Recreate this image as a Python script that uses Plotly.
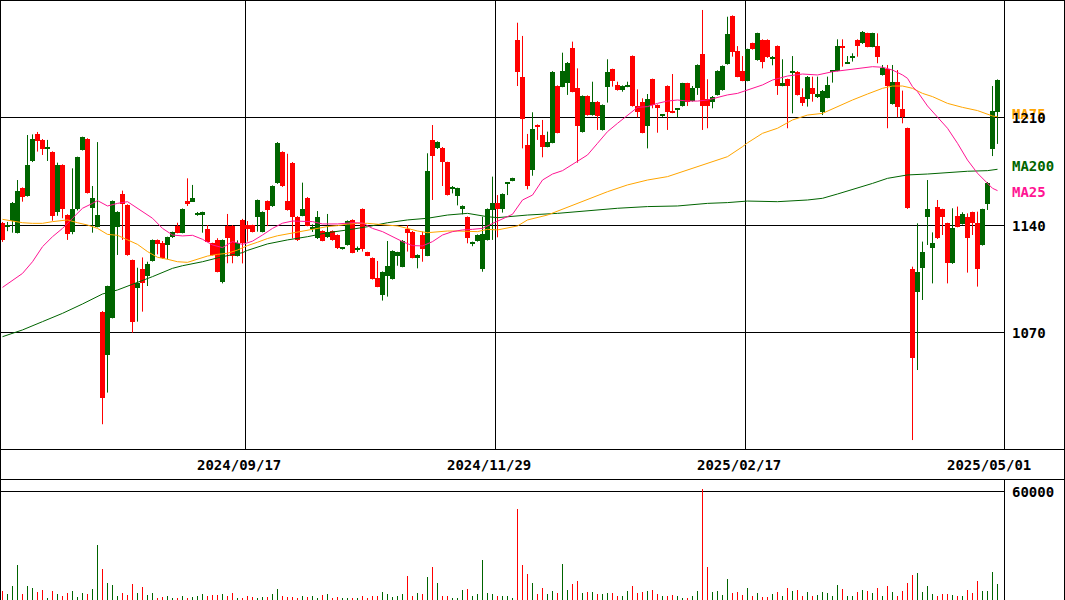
import plotly.graph_objects as go

# ---------------------------------------------------------------- data
# Daily candles, oldest first: 200 sessions ending 2025/05/01
opens = [
    1141.5, 1139, 1142.6, 1135, 1164.1, 1158.9, 1181.7, 1199.3, 1195.4, 1189.5,
    1187.5, 1148.7, 1179, 1146.5, 1135.7, 1150.2, 1189, 1196, 1150.9, 1139,
    1083.4, 1055.4, 1079.7, 1139, 1160.2, 1153, 1117.2, 1099.2, 1111.4, 1106.8,
    1116.6, 1130.3, 1128.5, 1127, 1132, 1139.6, 1135, 1155.6, 1155.2, 1146.8,
    1146.8, 1137.4, 1128.1, 1130.3, 1103.1, 1139.6, 1139.6, 1119.8, 1143.3, 1140,
    1139.8, 1145, 1135.7, 1155.6, 1152.2, 1167.3, 1187.7, 1155.6, 1180.6, 1145.4,
    1146.1, 1157.8, 1138, 1131.3, 1136.1, 1132, 1136.1, 1133.5, 1124.4, 1127,
    1143.3, 1124.2, 1150.4, 1122.2, 1118.5, 1105.5, 1094.4, 1107, 1104.9, 1120.1,
    1112.9, 1137.2, 1135.7, 1118.7, 1133.5, 1120.1, 1195.4, 1189.9, 1190.4, 1180.8,
    1163.5, 1158.9, 1150.7, 1145.2, 1128.1, 1129.6, 1111.4, 1130.3, 1149.8, 1154.4,
    1150.6, 1167, 1168.9, 1260.5, 1236.4, 1192.1, 1175.8, 1205.1, 1198.6, 1191,
    1193.6, 1230.5, 1230.1, 1232.2, 1255.5, 1229.4, 1200.6, 1224, 1211.6, 1220.3,
    1201.9, 1230.1, 1241.4, 1231.2, 1227.9, 1230.1, 1250, 1217.5, 1220.3, 1204.5,
    1234.9, 1218.1, 1211.2, 1230.5, 1213.9, 1215, 1217.5, 1232.2, 1220.8, 1229,
    1251.3, 1221.8, 1220.3, 1224.7, 1227.9, 1244.8, 1276.1, 1253.3, 1240.3, 1234,
    1258.3, 1247.4, 1260.5, 1260.5, 1248, 1256.5, 1230.7, 1234.9, 1239.2, 1239.8,
    1223.1, 1221.8, 1229, 1223.1, 1213.8, 1222.9, 1239.8, 1240.5, 1256.5, 1245.3,
    1249.2, 1260.5, 1258.3, 1264.8, 1256.1, 1256.5, 1237.7, 1241.4, 1218.8, 1233.3,
    1215.3, 1203, 1111.2, 1096.6, 1111.8, 1145, 1124.8, 1152, 1150.2, 1141.1,
    1115.1, 1146.1, 1140.7, 1145.4, 1148.3, 1141.1, 1127, 1153.7, 1189.3, 1213.8,
]
highs = [
    1142, 1142, 1155, 1169.3, 1164.5, 1198.6, 1199, 1200.6, 1196, 1195.4,
    1188, 1180.6, 1179.5, 1147, 1176.9, 1184.5, 1197.5, 1196.5, 1165.4, 1194,
    1084, 1100.5, 1156, 1149, 1162.4, 1153.5, 1117.5, 1112.2, 1118.9, 1116.1,
    1130.6, 1130.6, 1129.6, 1132.4, 1135.7, 1141.5, 1150.8, 1170.4, 1166.1, 1148.5,
    1148.7, 1140, 1128.5, 1131.4, 1130.6, 1147.2, 1140, 1130, 1144, 1142.6,
    1140.2, 1156.6, 1148.9, 1156, 1165.8, 1194, 1188, 1186.4, 1181, 1145.8,
    1167.6, 1158.2, 1140.5, 1149.1, 1136.5, 1147.2, 1136.5, 1133.9, 1125.5, 1143,
    1143.7, 1126, 1150.8, 1122.6, 1118.9, 1116.6, 1109.8, 1129.6, 1123.5, 1122.6,
    1130.2, 1140, 1136.1, 1120.9, 1135.7, 1186.7, 1205.1, 1194.5, 1190.8, 1181.2,
    1165.4, 1164.3, 1152.8, 1145.6, 1129.2, 1133.9, 1145.4, 1150.8, 1171.5, 1159.5,
    1160.6, 1168, 1170.8, 1271.7, 1263.1, 1199.3, 1213.4, 1205.5, 1208.4, 1200.8,
    1240.2, 1230.9, 1252.2, 1246.1, 1259.4, 1242, 1224.4, 1224.4, 1233.3, 1220.7,
    1218.5, 1247.9, 1241.8, 1233.3, 1230.9, 1233.3, 1250.4, 1228.3, 1222.5, 1225.3,
    1235.3, 1218.5, 1212.2, 1230.9, 1238.3, 1216, 1232.6, 1232.6, 1230.5, 1244.6,
    1280, 1234.9, 1224, 1240.7, 1243.9, 1275.6, 1276.5, 1256.5, 1250, 1254.8,
    1258.7, 1265.2, 1260.9, 1260.9, 1250, 1256.9, 1247.9, 1235.3, 1250, 1240.2,
    1229, 1237, 1236.6, 1236.6, 1227.9, 1236.6, 1240.9, 1260.9, 1260.9, 1250,
    1251.8, 1260.9, 1266.3, 1265.2, 1265.2, 1264.8, 1244.2, 1244.2, 1244.2, 1240.9,
    1227.5, 1203.4, 1112.9, 1141.1, 1129.2, 1169.3, 1135.2, 1156.3, 1150.6, 1141.5,
    1150.9, 1152, 1148.3, 1147.6, 1148.7, 1148.7, 1150.6, 1168, 1230.5, 1234.8,
]
lows = [
    1129, 1136, 1135, 1134.5, 1155.2, 1158.5, 1181, 1187.8, 1185.6, 1181.7,
    1142.8, 1146, 1144.4, 1130.3, 1134, 1149.5, 1188.5, 1160.5, 1135, 1138.5,
    1010.3, 1030.9, 1079.2, 1120.5, 1130.3, 1120, 1069.9, 1077.1, 1083.6, 1100.3,
    1116.2, 1120.9, 1118, 1117.7, 1131.6, 1134.6, 1134.6, 1152.4, 1155, 1146,
    1135, 1129, 1120.1, 1109.2, 1102, 1115.1, 1115.1, 1119.5, 1115, 1129.2,
    1135.2, 1135.7, 1135.2, 1139.3, 1151.8, 1166.8, 1164.8, 1149.4, 1131.3, 1129.6,
    1145.7, 1139.2, 1135.5, 1130.9, 1129.4, 1131.6, 1129.8, 1124.4, 1124, 1126.6,
    1121.6, 1122.5, 1122.7, 1119.7, 1104.5, 1099.5, 1090.8, 1093.4, 1104.5, 1113.5,
    1112.5, 1122.7, 1118.3, 1111.8, 1116.1, 1119.7, 1156.3, 1189.5, 1165.4, 1159.2,
    1160.6, 1152.8, 1147, 1128.1, 1126.2, 1129.2, 1109.6, 1129.9, 1130.3, 1132,
    1148.1, 1159.5, 1168.5, 1230.5, 1189.9, 1163.2, 1172.1, 1195.4, 1184.1, 1190.6,
    1193.2, 1199.7, 1229.7, 1224.7, 1226.4, 1180.6, 1200.2, 1211.2, 1211.2, 1201.9,
    1201.5, 1219.7, 1230.1, 1227.5, 1226.8, 1229.7, 1217.1, 1210.1, 1199.7, 1189.9,
    1216, 1200.1, 1210.4, 1201.9, 1212.8, 1210.1, 1217.1, 1217.5, 1220.4, 1224.7,
    1201.9, 1203, 1216, 1224.3, 1227.5, 1244.4, 1249.6, 1236.2, 1233.6, 1233.6,
    1254.2, 1247, 1242, 1248.8, 1244, 1224.7, 1230.3, 1203, 1212.7, 1224.3,
    1217.5, 1217.1, 1220.3, 1222.7, 1211.6, 1222.5, 1232.7, 1240.1, 1243.1, 1244.9,
    1246.4, 1249.6, 1257.9, 1255.7, 1255.7, 1245.3, 1237.3, 1203, 1218.4, 1210.1,
    1206.2, 1150.5, 1000, 1045.6, 1091.2, 1127, 1102, 1130.9, 1133.5, 1102,
    1114.7, 1138.5, 1140.3, 1109, 1133.5, 1099.9, 1126.6, 1149.8, 1184.9, 1192.8,
]
closes = [
    1130, 1140, 1154.6, 1162.4, 1158, 1179.1, 1196, 1195, 1189.5, 1190.2,
    1146, 1179.1, 1150.2, 1134, 1150.4, 1184.1, 1197.3, 1161, 1157.4, 1146.5,
    1027.6, 1100.3, 1155.6, 1148.5, 1154, 1120.5, 1077.1, 1102.1, 1102.1, 1114.6,
    1130.3, 1127.7, 1118.3, 1132, 1135.3, 1135, 1150.4, 1153.9, 1157.6, 1147.5,
    1148.3, 1129.2, 1120.5, 1109.6, 1130.3, 1131.3, 1120.1, 1128.5, 1128.1, 1137.5,
    1135.7, 1156.3, 1148.5, 1149.8, 1165.4, 1193.6, 1165.4, 1149.8, 1145, 1130,
    1150.4, 1139.6, 1139, 1145.4, 1129.8, 1135.7, 1130.2, 1124.8, 1125.1, 1142.6,
    1122, 1124.8, 1124.6, 1120.1, 1104.9, 1099.9, 1109.4, 1113.3, 1123.1, 1122.2,
    1129.8, 1135, 1118.7, 1120.5, 1124.2, 1175.2, 1185.2, 1194.1, 1180.8, 1159.6,
    1164.2, 1163.9, 1152.4, 1131.8, 1128.8, 1133.5, 1133.9, 1150.4, 1154.1, 1150.2,
    1160.2, 1167.6, 1170.4, 1239.8, 1208.8, 1165.6, 1202.5, 1203.6, 1191, 1194.3,
    1239.8, 1200.1, 1240.3, 1245.7, 1226.8, 1204.5, 1224, 1211.6, 1220.3, 1211,
    1218.1, 1239.8, 1234, 1227.9, 1230.5, 1230.8, 1217.5, 1213.8, 1200.1, 1221.8,
    1218.1, 1216, 1211.8, 1213.8, 1213.2, 1215.6, 1232.2, 1220.3, 1229, 1244.2,
    1217.5, 1217.5, 1223.6, 1240.3, 1243.5, 1264.4, 1252.9, 1236.6, 1234, 1254.4,
    1254.6, 1264.8, 1245.9, 1249.2, 1249.6, 1230.5, 1232.2, 1230.5, 1239.8, 1224.7,
    1219.7, 1236.6, 1225.3, 1225.3, 1227.5, 1231.2, 1240.5, 1256.5, 1255, 1245.9,
    1249.8, 1256.5, 1265.9, 1256.1, 1264.8, 1249.6, 1242, 1230.5, 1233.3, 1217.1,
    1210.1, 1150.9, 1053.6, 1109.6, 1122.7, 1150.2, 1128.1, 1131.3, 1145, 1115.1,
    1137.8, 1138.9, 1147, 1131.3, 1141.1, 1111.2, 1150.2, 1167.6, 1214.2, 1234.4,
]
volumes = [
    5000, 3300, 7700, 19300, 3300, 7700, 6600, 4400, 5500, 1100,
    5000, 3300, 2200, 3900, 5000, 1700, 3900, 3300, 6100, 30300,
    17100, 9400, 8300, 2200, 3900, 2800, 8800, 3900, 7200, 2800,
    3900, 1100, 1700, 2200, 1100, 600, 2200, 1100, 1700, 2200,
    3300, 2200, 2800, 2800, 3300, 2200, 3900, 1100, 1100, 2200,
    1700, 1100, 1700, 1700, 3300, 6100, 2200, 1700, 1700, 1100,
    2200, 1700, 2200, 1100, 2800, 3300, 1100, 1700, 600, 600,
    1100, 1100, 2200, 1100, 2200, 2200, 4400, 3300, 1700, 2200,
    3300, 13200, 2200, 3900, 3300, 12700, 18200, 9400, 2200, 2200,
    1100, 1100, 5500, 6100, 2200, 3300, 22000, 3900, 3300, 2200,
    2200, 2200, 1100, 50100, 19300, 14300, 9400, 3300, 6600, 3300,
    5000, 3900, 19800, 5500, 8800, 10500, 3900, 4400, 4400, 3300,
    3300, 3900, 3900, 2200, 2200, 5000, 7700, 3900, 4400, 5000,
    5500, 3300, 2200, 2200, 2800, 2200, 1100, 600, 2200, 5000,
    61100, 18200, 4400, 5000, 2800, 11600, 3900, 4400, 2800, 6600,
    2200, 3900, 1700, 1700, 3300, 4400, 2200, 6600, 5000, 5500,
    2200, 4400, 2200, 2800, 4400, 3900, 2200, 8300, 6100, 2200,
    2200, 4400, 5500, 5000, 3900, 6600, 2200, 7700, 4400, 2200,
    5000, 9400, 13800, 14900, 4400, 7700, 3300, 2200, 3300, 3300,
    2800, 2200, 2200, 5500, 3900, 10500, 5000, 5000, 15400, 8800,
]

# Moving averages (session index, value)
ma25_idx = [0, 2, 4, 6, 8, 10, 12, 14, 16, 18, 19, 21, 23, 25, 26, 28, 30, 32, 34, 36,
            38, 40, 42, 44, 46, 48, 50, 52, 54, 56, 58, 62, 64, 67, 70, 72, 74, 76, 78, 80,
            82, 84, 86, 88, 90, 92, 94, 96, 98, 100, 102, 104, 106, 108, 110, 112, 115, 117, 119, 121,
            123, 125, 127, 129, 131, 133, 135, 137, 139, 141, 143, 145, 147, 149, 152, 154, 157, 160, 163, 166,
            169, 172, 174, 176, 178, 180, 181, 182, 183, 185, 187, 189, 191, 193, 195, 197, 198, 199]
ma25_val = [1099.4, 1104.2, 1108.5, 1116.1, 1125.9, 1132.4, 1137.8, 1144.4, 1150.9, 1154.1,
            1155.9, 1152.4, 1154.1, 1155.2, 1153.0, 1148.7, 1144.4, 1137.8, 1133.5, 1132.9,
            1133.3, 1130.7, 1127.0, 1125.3, 1129.2, 1127.4, 1129.5, 1133.5, 1137.8, 1141.2,
            1142.6, 1142.2, 1140.7, 1140.7, 1141.5, 1141.3, 1137.8, 1135.7, 1132.4, 1129.2,
            1126.6, 1126.4, 1129.2, 1133.5, 1135.7, 1136.8, 1137.2, 1137.8, 1141.0, 1144.0,
            1147.0, 1156.3, 1159.5, 1169.3, 1173.2, 1175.4, 1181.3, 1185.6, 1193.2, 1200.8,
            1206.2, 1211.6, 1216.6, 1217.1, 1219.2, 1220.7, 1221.4, 1220.7, 1220.7, 1221.4,
            1222.9, 1224.7, 1225.7, 1227.7, 1231.2, 1234.4, 1237.0, 1238.3, 1237.7, 1239.8,
            1240.9, 1242.0, 1243.1, 1242.7, 1240.9, 1237.7, 1235.5, 1230.1, 1226.8, 1217.5,
            1210.1, 1203.0, 1193.2, 1182.3, 1173.7, 1167.1, 1163.9, 1162.4]

ma75_idx = [0, 4, 6, 8, 10, 12, 13, 15, 17, 19, 21, 23, 25, 27, 29, 31, 33, 35, 37, 39,
            41, 43, 45, 47, 49, 51, 53, 55, 57, 59, 61, 63, 65, 67, 69, 71, 73, 75, 77, 79,
            81, 83, 85, 87, 89, 91, 93, 95, 97, 99, 103, 105, 109, 113, 117, 121, 125, 129, 133, 137,
            141, 145, 148, 149, 152, 155, 158, 161, 164, 167, 170, 173, 176, 178, 180, 182, 184, 186, 189, 192,
            195, 198, 199]
ma75_val = [1143.7, 1141.5, 1141.1, 1141.1, 1142.2, 1142.8, 1143.3, 1141.5, 1140.0, 1137.8,
            1133.9, 1133.3, 1130.3, 1127.4, 1122.7, 1119.0, 1117.7, 1116.1, 1115.7, 1117.7,
            1119.8, 1120.9, 1121.6, 1123.7, 1126.6, 1128.8, 1131.2, 1133.0, 1134.2, 1135.5,
            1136.4, 1137.6, 1139.0, 1139.6, 1140.6, 1141.1, 1141.1, 1140.5, 1140.0, 1139.4,
            1137.8, 1136.1, 1135.0, 1135.7, 1136.1, 1136.1, 1135.7, 1135.7, 1137.2, 1136.8,
            1139.4, 1143.3, 1146.5, 1151.5, 1156.3, 1161.7, 1166.1, 1169.3, 1171.5, 1175.8,
            1180.2, 1184.5, 1191.0, 1193.5, 1199.7, 1203.0, 1208.4, 1211.6, 1212.7, 1217.1,
            1221.4, 1225.3, 1229.0, 1230.5, 1230.5, 1229.0, 1225.7, 1223.6, 1219.2, 1216.6,
            1214.5, 1211.0, 1210.5]

ma200_idx = [0, 4, 8, 12, 16, 20, 23, 26, 30, 34, 36, 40, 44, 48, 49, 53, 57, 61, 65, 69,
             73, 77, 81, 85, 89, 93, 95, 97, 99, 105, 111, 117, 123, 129, 135, 141, 145, 149, 155, 161,
             164, 167, 171, 174, 177, 181, 185, 189, 193, 197, 199]
ma200_val = [1067.3, 1071.7, 1077.1, 1082.5, 1088.6, 1095.1, 1097.7, 1101.4, 1106.4, 1111.8,
             1113.5, 1116.1, 1119.4, 1122.0, 1123.5, 1127.7, 1130.3, 1132.4, 1135.0, 1136.8,
             1138.9, 1141.5, 1143.3, 1144.4, 1146.5, 1147.6, 1146.5, 1145.4, 1144.8, 1146.5,
             1147.6, 1149.4, 1150.9, 1152.0, 1152.4, 1154.1, 1154.6, 1155.6, 1155.2, 1156.3,
             1157.4, 1160.2, 1163.9, 1167.1, 1170.4, 1172.6, 1173.2, 1174.1, 1175.0, 1175.4,
             1176.3]

date_idx = [49, 99, 149, 199]
date_labels = ["2024/09/17", "2024/11/29", "2025/02/17", "2025/05/01"]
price_ticks = [1070, 1140, 1210]
volume_ticks = [60000]

# ---------------------------------------------------------------- styling
W, H = 1065, 600
PLOT_R = 1004      # right edge of both panes, px
PRICE_B = 449      # bottom of the price pane, px
VOL_T = 479        # top of the volume pane, px
UP, DOWN = "#006400", "#ff0000"
MA25_C, MA75_C, MA200_C = "#ff1493", "#ffa500", "#006400"
FONT = "DejaVu Sans Mono"
FS = 14

n = len(closes)
idx = list(range(n))
colors = [UP if c >= o else DOWN for o, c in zip(opens, closes)]

fig = go.Figure()

# wicks (one trace per colour)
for col in (UP, DOWN):
    xs, ys = [], []
    for i in idx:
        if colors[i] == col:
            xs += [i, i, None]
            ys += [lows[i], highs[i], None]
    fig.add_trace(go.Scatter(x=xs, y=ys, mode="lines",
                             line=dict(color=col, width=1),
                             hoverinfo="skip", showlegend=False))

# bodies
body_base = [min(o, c) for o, c in zip(opens, closes)]
body_len = [max(abs(c - o), 0.7) for o, c in zip(opens, closes)]
fig.add_trace(go.Bar(x=idx, y=body_len, base=body_base, width=1.0,
                     marker=dict(color=colors, line=dict(width=0)),
                     hoverinfo="skip", showlegend=False))

# moving averages
for xs, ys, col in ((ma200_idx, ma200_val, MA200_C),
                    (ma75_idx, ma75_val, MA75_C),
                    (ma25_idx, ma25_val, MA25_C)):
    fig.add_trace(go.Scatter(x=xs, y=ys, mode="lines",
                             line=dict(color=col, width=1),
                             hoverinfo="skip", showlegend=False))

# volume
fig.add_trace(go.Bar(x=idx, y=volumes, width=0.2, xaxis="x2", yaxis="y2",
                     marker=dict(color=colors, line=dict(width=0)),
                     hoverinfo="skip", showlegend=False))

x_rng = [-0.5, 200.3]
dom_x = [0, PLOT_R / W]
fig.update_layout(
    width=W, height=H, margin=dict(l=0, r=0, t=0, b=0),
    paper_bgcolor="white", plot_bgcolor="white",
    showlegend=False, hovermode=False,
    bargap=0, bargroupgap=0, barmode="overlay",
    xaxis=dict(domain=dom_x, range=x_rng, anchor="y",
               tickvals=[i - 0.4 for i in date_idx[:-1]],
               showticklabels=False, ticks="", showgrid=True,
               gridcolor="black", gridwidth=1, zeroline=False, showline=False),
    yaxis=dict(domain=[1 - PRICE_B / H, 1], range=[994.18, 1286.5], anchor="x",
               tickvals=price_ticks, showticklabels=False, ticks="",
               showgrid=True, gridcolor="black", gridwidth=1,
               zeroline=False, showline=False),
    xaxis2=dict(domain=dom_x, range=x_rng, anchor="y2",
                showticklabels=False, ticks="", showgrid=False,
                zeroline=False, showline=False),
    yaxis2=dict(domain=[0, 1 - VOL_T / H], range=[0, 66900], anchor="x2",
                tickvals=volume_ticks, showticklabels=False, ticks="",
                showgrid=True, gridcolor="black", gridwidth=1,
                zeroline=False, showline=False),
)


def hline(py, x0=0, x1=W):
    return dict(type="line", xref="paper", yref="paper", layer="above",
                x0=x0 / W, x1=x1 / W, y0=1 - py / H, y1=1 - py / H,
                line=dict(color="black", width=1))


def vline(px, y0, y1):
    return dict(type="line", xref="paper", yref="paper", layer="above",
                x0=px / W, x1=px / W, y0=1 - y0 / H, y1=1 - y1 / H,
                line=dict(color="black", width=1))


fig.update_layout(shapes=[
    hline(0.5), hline(PRICE_B + 0.5), hline(VOL_T + 0.5),
    vline(0.5, 0, H), vline(W - 0.5, 0, H),
    vline(PLOT_R + 0.5, 0, PRICE_B), vline(PLOT_R + 0.5, VOL_T, H),
])


def label(text, color):
    return "<b>%s</b>" % text, dict(family=FONT, size=FS, color=color)


ann = []
LAB_X = 1010 / W
# MA names first so the price figures sit on top where they meet
for name, vals, col, dy in (("MA75", ma75_val, MA75_C, 3),
                            ("MA200", ma200_val, MA200_C, 3),
                            ("MA25", ma25_val, MA25_C, -1.5)):
    t, f = label(name, col)
    ann.append(dict(xref="paper", yref="y", x=LAB_X, y=vals[-1], text=t,
                    xanchor="left", yanchor="middle", yshift=dy, showarrow=False,
                    font=f))
for v in price_ticks:
    t, f = label(str(v), "black")
    ann.append(dict(xref="paper", yref="y", x=LAB_X, y=v, text=t,
                    xanchor="left", yanchor="middle", yshift=-0.5, showarrow=False,
                    font=f))
for v in volume_ticks:
    t, f = label(str(v), "black")
    ann.append(dict(xref="paper", yref="y2", x=LAB_X, y=v, text=t,
                    xanchor="left", yanchor="middle", yshift=-1, showarrow=False,
                    font=f))
for i, lab in zip(date_idx, date_labels):
    t, f = label(lab, "black")
    ann.append(dict(xref="x", yref="paper", x=i - 0.5, y=1 - 465 / H, text=t,
                    xanchor="center", yanchor="middle", xshift=-6.5, showarrow=False,
                    font=f))
fig.update_layout(annotations=ann)

fig.write_html("out.html")
